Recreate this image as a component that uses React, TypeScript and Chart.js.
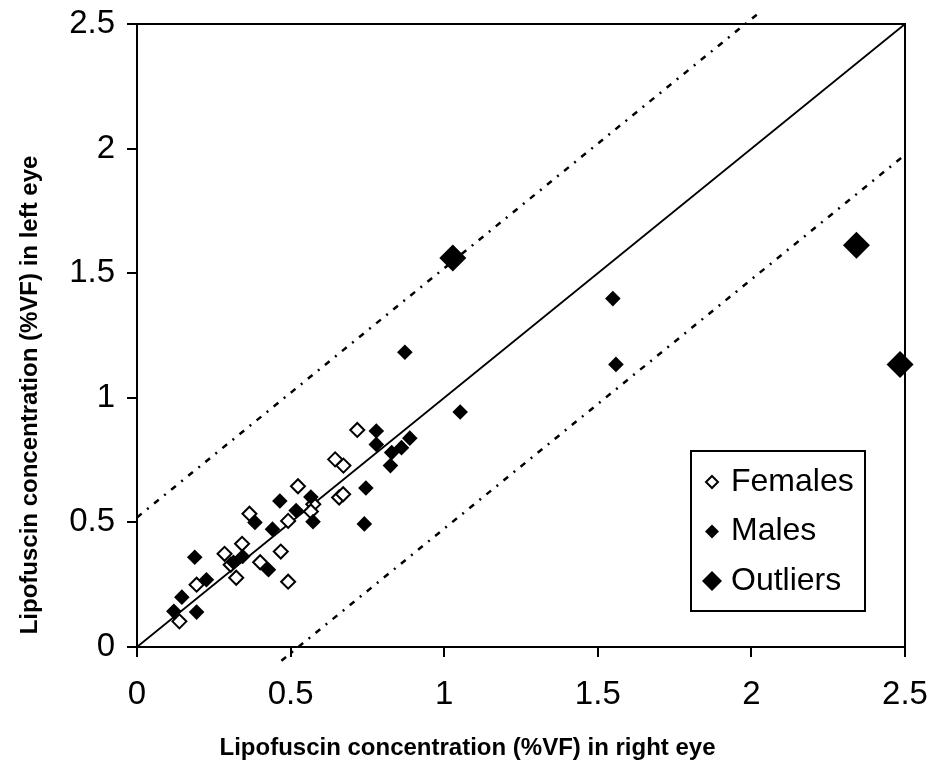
import React, { useEffect, useRef } from 'react';
import { Chart, registerables } from 'chart.js';

Chart.register(...registerables);

// ---- Data ----
const femaleX = [0.717, 0.645, 0.672, 0.524, 0.658, 0.671, 0.574, 0.566, 0.366, 0.492, 0.342, 0.285, 0.401, 0.468, 0.323, 0.492, 0.194, 0.138, 0.305];
const femaleY = [0.871, 0.753, 0.728, 0.645, 0.600, 0.613, 0.573, 0.544, 0.535, 0.506, 0.414, 0.374, 0.340, 0.383, 0.278, 0.262, 0.250, 0.103, 0.330];

const maleX = [0.779, 0.779, 0.888, 0.861, 0.829, 0.825, 0.745, 0.740, 0.566, 0.518, 0.465, 0.573, 0.384, 0.441, 0.428, 0.344, 0.314, 0.188, 0.226, 0.146, 0.120, 0.194, 0.872, 1.052, 1.549, 1.559];
const maleY = [0.867, 0.813, 0.838, 0.800, 0.780, 0.728, 0.638, 0.494, 0.602, 0.548, 0.586, 0.503, 0.500, 0.473, 0.310, 0.363, 0.340, 0.360, 0.270, 0.200, 0.143, 0.140, 1.183, 0.943, 1.398, 1.134];

const outlierX = [1.028, 2.342, 2.484];
const outlierY = [1.561, 1.612, 1.134];

const identityX = [0, 2.5];
const identityY = [0, 2.5];
const upperLimitX = [0, 2.03];
const upperLimitY = [0.52, 2.55];
const lowerLimitX = [0.47, 2.5];
const lowerLimitY = [-0.055, 1.975];

const tickValues = [0, 0.5, 1, 1.5, 2, 2.5];
const tickLabels = ['0', '0.5', '1', '1.5', '2', '2.5'];

const seriesLabels = ['Females', 'Males', 'Outliers'];
const xTitle = 'Lipofuscin concentration (%VF) in right eye';
const yTitle = 'Lipofuscin concentration (%VF) in left eye';

const FONT = "'Liberation Sans', Arial, sans-serif";

const toPoints = (xs: number[], ys: number[]) => xs.map((x, i) => ({ x, y: ys[i] }));

function diamond(ctx: CanvasRenderingContext2D, x: number, y: number, r: number, filled: boolean) {
  ctx.beginPath();
  ctx.moveTo(x, y - r);
  ctx.lineTo(x + r, y);
  ctx.lineTo(x, y + r);
  ctx.lineTo(x - r, y);
  ctx.closePath();
  if (filled) {
    ctx.fillStyle = '#000';
    ctx.fill();
  } else {
    ctx.fillStyle = '#fff';
    ctx.fill();
    ctx.lineWidth = 2;
    ctx.strokeStyle = '#000';
    ctx.stroke();
  }
}

const framePlugin = {
  id: 'frame',
  beforeDatasetsDraw(chart: any) {
    const { ctx, chartArea } = chart;
    ctx.save();
    ctx.strokeStyle = '#000';
    ctx.lineWidth = 2;
    ctx.beginPath();
    ctx.moveTo(chartArea.left, chartArea.top);
    ctx.lineTo(chartArea.right, chartArea.top);
    ctx.lineTo(chartArea.right, chartArea.bottom);
    ctx.stroke();
    ctx.restore();
  },
};

// Axis titles centred on the whole chart, as in the reference
const titlePlugin = {
  id: 'axisTitles',
  afterDraw(chart: any) {
    const { ctx } = chart;
    ctx.save();
    ctx.fillStyle = '#000';
    ctx.font = `bold 24px ${FONT}`;
    ctx.textAlign = 'center';
    ctx.textBaseline = 'middle';
    ctx.fillText(xTitle, chart.width / 2, chart.height - 20);
    ctx.translate(30, chart.height / 2 + 11);
    ctx.rotate(-Math.PI / 2);
    ctx.fillText(yTitle, 0, 0);
    ctx.restore();
  },
};

const boxLegendPlugin = {
  id: 'boxLegend',
  afterDraw(chart: any) {
    const { ctx, chartArea } = chart;
    const w = 174;
    const h = 160;
    const right = chartArea.right - 40;
    const bottom = chartArea.bottom - 36;
    const left = right - w;
    const top = bottom - h;
    ctx.save();
    ctx.fillStyle = '#fff';
    ctx.fillRect(left, top, w, h);
    ctx.lineWidth = 2;
    ctx.strokeStyle = '#000';
    ctx.strokeRect(left, top, w, h);
    const markers = [
      { r: 6, filled: false },
      { r: 7, filled: true },
      { r: 10, filled: true },
    ];
    ctx.font = `32px ${FONT}`;
    ctx.textBaseline = 'middle';
    ctx.textAlign = 'left';
    seriesLabels.forEach((label, i) => {
      const cy = top + 31 + i * 49.5;
      diamond(ctx, left + 21, cy, markers[i].r, markers[i].filled);
      ctx.fillStyle = '#000';
      ctx.fillText(label, left + 40, cy);
    });
    ctx.restore();
  },
};

export default function App() {
  const canvasRef = useRef<HTMLCanvasElement | null>(null);

  useEffect(() => {
    if (!canvasRef.current) return;
    const axisCommon = (isX: boolean) => ({
      type: 'linear' as const,
      min: 0,
      max: 2.5,
      afterBuildTicks: (s: any) => {
        s.ticks = tickValues.map((v) => ({ value: v }));
      },
      afterFit: (s: any) => {
        if (isX) {
          s.height = 121;
        } else {
          s.width = 137;
        }
        s.paddingTop = 0;
        s.paddingBottom = 0;
        s.paddingLeft = 0;
        s.paddingRight = 0;
      },
      ticks: {
        callback: (_v: any, i: number) => tickLabels[i],
        font: { family: FONT, size: 33 },
        color: '#000',
        padding: isX ? 18 : 12,
        maxRotation: 0,
        autoSkip: false,
      },
      grid: {
        drawOnChartArea: false,
        drawTicks: true,
        tickLength: 10,
        tickWidth: 2,
        tickColor: '#000',
        color: '#000',
        lineWidth: 2,
      },
      border: { display: true, color: '#000', width: 2 },
      title: { display: false },
    });

    const chart = new Chart(canvasRef.current, {
      type: 'scatter',
      data: {
        datasets: [
          {
            label: seriesLabels[2],
            data: toPoints(outlierX, outlierY),
            pointStyle: 'rectRot',
            pointRadius: 13.5,
            backgroundColor: '#000',
            borderColor: '#000',
            borderWidth: 0,
            clip: false,
            order: 1,
          },
          {
            label: seriesLabels[1],
            data: toPoints(maleX, maleY),
            pointStyle: 'rectRot',
            pointRadius: 7.8,
            backgroundColor: '#000',
            borderColor: '#000',
            borderWidth: 0,
            clip: false,
            order: 2,
          },
          {
            label: seriesLabels[0],
            data: toPoints(femaleX, femaleY),
            pointStyle: 'rectRot',
            pointRadius: 7,
            backgroundColor: '#fff',
            borderColor: '#000',
            borderWidth: 2,
            clip: false,
            order: 3,
          },
          {
            label: 'identity',
            data: toPoints(identityX, identityY),
            showLine: true,
            pointRadius: 0,
            borderColor: '#000',
            borderWidth: 1.8,
            order: 4,
          },
          {
            label: 'upper',
            data: toPoints(upperLimitX, upperLimitY),
            showLine: true,
            pointRadius: 0,
            borderColor: '#000',
            borderWidth: 2.5,
            borderDash: [6, 7, 2, 7],
            clip: false,
            order: 5,
          },
          {
            label: 'lower',
            data: toPoints(lowerLimitX, lowerLimitY),
            showLine: true,
            pointRadius: 0,
            borderColor: '#000',
            borderWidth: 2.5,
            borderDash: [6, 7, 2, 7],
            clip: false,
            order: 6,
          },
        ] as any,
      },
      options: {
        animation: false,
        responsive: false,
        maintainAspectRatio: false,
        layout: { padding: { left: 0, right: 30, top: 24, bottom: 0 } },
        plugins: {
          legend: { display: false },
          tooltip: { enabled: false },
        },
        scales: {
          x: axisCommon(true) as any,
          y: axisCommon(false) as any,
        },
      },
      plugins: [framePlugin, titlePlugin, boxLegendPlugin],
    });
    return () => chart.destroy();
  }, []);

  return (
    <div style={{ position: 'fixed', left: 0, top: 0, width: 935, height: 768, background: '#fff' }}>
      <canvas ref={canvasRef} width={935} height={768} style={{ display: 'block' }} />
    </div>
  );
}
